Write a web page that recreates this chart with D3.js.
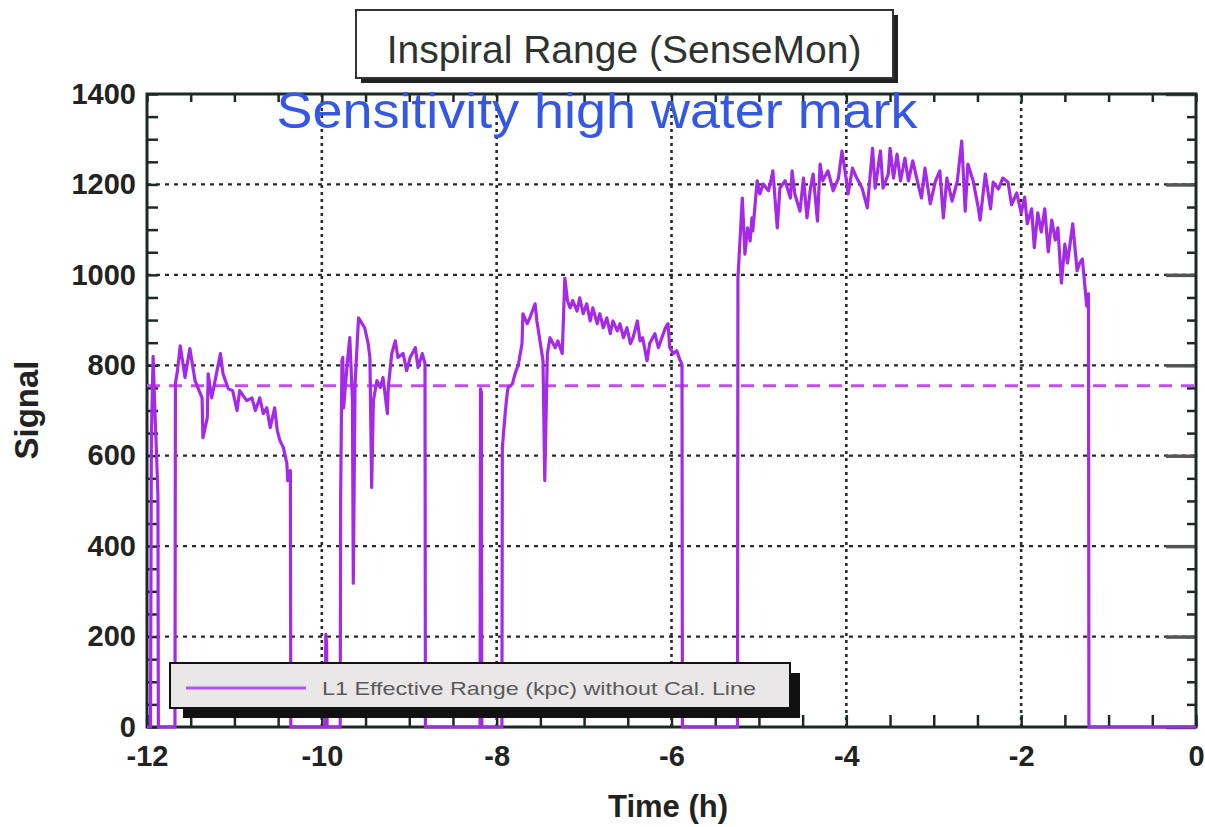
<!DOCTYPE html>
<html>
<head>
<meta charset="utf-8">
<script src="https://cdn.jsdelivr.net/npm/d3@7"></script>
<style>
body { margin:0; background:#fff; }
text { font-family:"Liberation Sans", Arial, sans-serif; }
</style>
</head>
<body>
<svg id="svg" width="1205" height="827"></svg>
<script>
// hours before now
var times = [
  -12.00,-11.96,-11.95,-11.93,-11.91,-11.89,-11.875,-11.87,
  -11.68,-11.675,-11.65,-11.62,-11.565,-11.51,-11.45,-11.37,-11.36,-11.31,-11.30,-11.26,
  -11.16,-11.13,-11.07,-11.02,-10.97,-10.94,-10.86,-10.80,-10.76,-10.71,-10.67,-10.63,
  -10.59,-10.54,-10.51,-10.48,-10.44,-10.40,-10.39,-10.36,-10.355,
  -9.96,-9.955,-9.945,-9.94,
  -9.79,-9.785,-9.77,-9.76,-9.75,-9.71,-9.68,-9.65,-9.64,-9.62,-9.58,-9.54,-9.51,-9.47,
  -9.45,-9.43,-9.41,-9.37,-9.33,-9.30,-9.25,-9.24,-9.20,-9.16,-9.13,-9.07,-9.03,-8.99,
  -8.93,-8.90,-8.85,-8.82,-8.815,
  -8.19,-8.185,-8.175,-8.17,
  -7.94,-7.935,-7.90,-7.88,-7.87,-7.82,-7.79,-7.75,-7.71,-7.70,-7.65,-7.62,-7.56,-7.54,
  -7.50,-7.47,-7.45,-7.42,-7.39,-7.33,-7.30,-7.25,-7.22,-7.19,-7.16,-7.13,-7.08,-7.05,
  -7.01,-6.97,-6.93,-6.90,-6.85,-6.82,-6.78,-6.74,-6.70,-6.67,-6.62,-6.59,-6.55,-6.51,
  -6.47,-6.44,-6.39,-6.36,-6.33,-6.28,-6.25,-6.19,-6.15,-6.11,-6.07,-6.04,-6.02,-5.98,
  -5.94,-5.90,-5.88,-5.875,
  -5.245,-5.24,-5.19,-5.16,-5.13,-5.10,-5.08,-5.07,-5.02,-4.99,-4.95,-4.89,-4.84,-4.79,
  -4.76,-4.70,-4.64,-4.62,-4.59,-4.53,-4.49,-4.45,-4.41,-4.38,-4.33,-4.30,-4.27,-4.21,
  -4.15,-4.09,-4.05,-4.01,-3.98,-3.93,-3.88,-3.82,-3.76,-3.70,-3.67,-3.61,-3.58,-3.52,
  -3.50,-3.46,-3.42,-3.38,-3.33,-3.29,-3.24,-3.18,-3.14,-3.10,-3.04,-2.98,-2.93,-2.89,
  -2.85,-2.79,-2.73,-2.68,-2.64,-2.61,-2.55,-2.49,-2.47,-2.41,-2.35,-2.32,-2.26,-2.21,
  -2.15,-2.11,-2.05,-2.00,-1.96,-1.93,-1.88,-1.85,-1.81,-1.77,-1.73,-1.69,-1.65,-1.61,
  -1.58,-1.54,-1.50,-1.47,-1.41,-1.36,-1.33,-1.30,-1.27,-1.25,-1.23,-1.225,
  0
];
// L1 effective range (kpc)
var range = [
  0,0,640,820,700,600,510,0,
  0,760,790,843,773,837,766,728,640,684,781,728,
  826,781,748,744,700,744,722,728,700,728,693,706,
  662,706,656,634,618,583,545,567,0,
  0,205,185,0,
  0,500,810,817,706,803,861,722,318,759,905,892,883,848,
  817,530,722,766,751,773,693,751,826,854,817,826,788,817,
  839,795,826,803,0,
  0,748,740,0,
  0,618,700,737,750,759,781,803,848,914,892,905,936,898,
  848,810,545,826,861,839,854,826,993,943,927,943,920,949,
  914,936,898,927,892,914,883,905,870,898,876,892,861,883,
  848,861,898,854,861,810,848,870,839,861,883,892,839,826,
  832,810,803,0,
  0,993,1170,1046,1104,1075,1126,1097,1208,1179,1201,1186,1230,1104,
  1192,1208,1170,1230,1179,1141,1214,1126,1192,1223,1119,1245,1208,1230,
  1186,1214,1274,1223,1179,1236,1214,1192,1148,1280,1192,1274,1192,1223,
  1280,1214,1267,1208,1258,1208,1252,1201,1170,1236,1157,1208,1230,1126,
  1214,1163,1208,1296,1141,1245,1208,1148,1121,1223,1146,1205,1190,1214,
  1205,1155,1181,1137,1172,1113,1146,1060,1137,1095,1146,1051,1121,1077,
  1104,982,1068,1026,1113,1009,1026,1035,973,931,958,0,
  0
];
var threshold = 755;
var xTicks = [-12,-10,-8,-6,-4,-2,0];
var yTicks = [0,200,400,600,800,1000,1200,1400];

var svg = d3.select("#svg");

var frame = "#1c2a25",
    grid  = "#2a2a2a",
    trace = "#a52ae8",
    dash  = "#c34cf0",
    blue  = "#3558e4";

var x = d3.scaleLinear().domain([-12,0]).range([147,1196]),
    y = d3.scaleLinear().domain([0,1400]).range([727,94]);

var minorX = d3.range(-12,0.01,0.5),
    minorY = d3.range(0,1401,50);

// dotted grid
svg.append("g").selectAll("line").data(yTicks.slice(1,-1)).enter().append("line")
    .attr("x1",x(-12)).attr("x2",x(0)).attr("y1",y).attr("y2",y)
    .attr("stroke",grid).attr("stroke-width",2.2).attr("stroke-dasharray","4,5");
svg.append("g").selectAll("line").data(xTicks.slice(1,-1)).enter().append("line")
    .attr("x1",x).attr("x2",x).attr("y1",y(0)).attr("y2",y(1400))
    .attr("stroke",grid).attr("stroke-width",2.6).attr("stroke-dasharray","3,4");

// minor ticks on all four sides, pointing in
function ticks(g) {
  g.select(".domain").remove();
  g.selectAll("line").attr("stroke",frame).attr("stroke-width",2.5);
}
svg.append("g").attr("transform","translate("+x(-12)+",0)")
    .call(d3.axisLeft(y).tickValues(minorY).tickSize(-11).tickFormat("")).call(ticks);
svg.append("g").attr("transform","translate("+x(0)+",0)")
    .call(d3.axisRight(y).tickValues(minorY).tickSize(-9).tickFormat("")).call(ticks);
svg.append("g").attr("transform","translate("+x(0)+",0)")
    .call(d3.axisRight(y).tickValues(yTicks).tickSize(-30).tickFormat("")).call(ticks)
    .selectAll("line").attr("stroke","#555").attr("stroke-width",3.5);
svg.append("g").attr("transform","translate(0,"+y(0)+")")
    .call(d3.axisBottom(x).tickValues(minorX).tickSize(-12).tickFormat("")).call(ticks);
svg.append("g").attr("transform","translate(0,"+y(1400)+")")
    .call(d3.axisTop(x).tickValues(minorX).tickSize(-8).tickFormat("")).call(ticks);

// tick labels, plain hyphen minus and no thousands comma
function labels(g) {
  g.select(".domain").remove();
  g.attr("font-size",29).attr("font-weight","bold").attr("font-family","Liberation Sans, Arial, sans-serif");
  g.selectAll("text").attr("fill","#222");
}
var plain = function(d){ return String(d); };
svg.append("g").attr("transform","translate("+x(-12)+",0)")
    .call(d3.axisLeft(y).tickValues(yTicks).tickSize(0).tickPadding(11).tickFormat(plain)).call(labels);
svg.append("g").attr("transform","translate(0,"+y(0)+")")
    .call(d3.axisBottom(x).tickValues(xTicks).tickSize(0).tickPadding(18).tickFormat(plain)).call(labels);

// frame
svg.append("rect").attr("x",x(-12)).attr("y",y(1400))
    .attr("width",x(0)-x(-12)).attr("height",y(0)-y(1400))
    .attr("fill","none").attr("stroke",frame).attr("stroke-width",3);

// threshold
svg.append("line").attr("x1",x(-12)).attr("x2",x(0)).attr("y1",y(threshold)).attr("y2",y(threshold))
    .attr("stroke",dash).attr("stroke-width",3).attr("stroke-dasharray","13,9");

// range trace
var pts = times.map(function(t,i){ return [t, range[i]]; });
svg.append("path").datum(pts)
    .attr("d",d3.line().x(function(d){return x(d[0]);}).y(function(d){return y(d[1]);}))
    .attr("fill","none").attr("stroke",trace).attr("stroke-width",3.2).attr("stroke-linejoin","round");

// legend
svg.append("rect").attr("x",183).attr("y",673).attr("width",617).attr("height",45).attr("fill","#111");
svg.append("rect").attr("x",170).attr("y",663).attr("width",620).attr("height",45)
    .attr("fill","#e9e7e8").attr("stroke","#111").attr("stroke-width",2);
svg.append("line").attr("x1",186).attr("x2",306).attr("y1",688).attr("y2",688)
    .attr("stroke","#b452ea").attr("stroke-width",3);
svg.append("text").attr("x",322).attr("y",695).attr("font-size",19).attr("fill","#5a5a5a")
    .attr("textLength",434).attr("lengthAdjust","spacingAndGlyphs")
    .text("L1 Effective Range (kpc) without Cal. Line");

// title box
svg.append("rect").attr("x",361).attr("y",15).attr("width",537).attr("height",68).attr("fill","#222");
svg.append("rect").attr("x",356).attr("y",10).attr("width",537).attr("height",68)
    .attr("fill","#fff").attr("stroke","#333").attr("stroke-width",2);
svg.append("text").attr("x",624).attr("y",63).attr("text-anchor","middle")
    .attr("font-size",39).attr("fill","#2e332f").text("Inspiral Range (SenseMon)");

svg.append("text").attr("x",597).attr("y",128).attr("text-anchor","middle")
    .attr("font-size",50).attr("fill",blue)
    .attr("textLength",641).attr("lengthAdjust","spacingAndGlyphs")
    .text("Sensitivity high water mark");

// axis titles
svg.append("text").attr("transform","translate(38,410) rotate(-90)").attr("text-anchor","middle")
    .attr("font-size",33).attr("font-weight","bold").attr("fill","#222").text("Signal");
svg.append("text").attr("x",668).attr("y",817).attr("text-anchor","middle")
    .attr("font-size",31).attr("font-weight","bold").attr("fill","#222").text("Time (h)");
</script>
</body>
</html>
